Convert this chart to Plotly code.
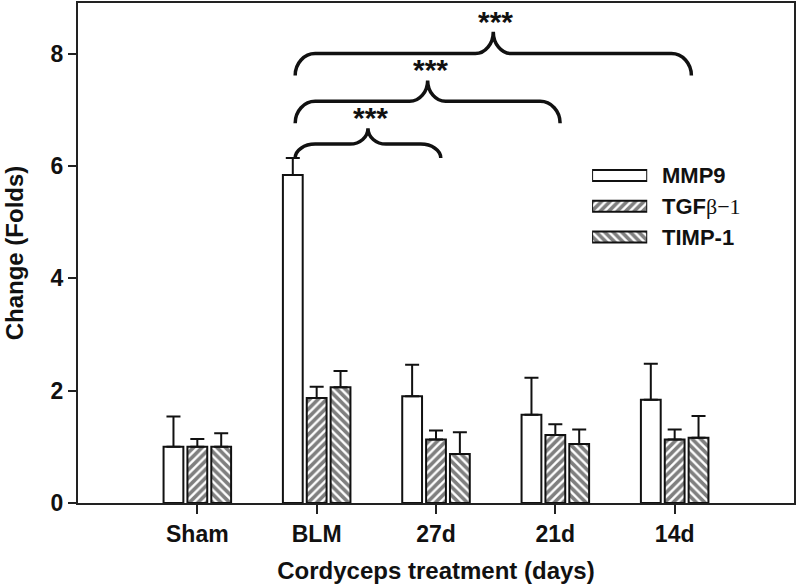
import plotly.graph_objects as go

GROUPS = ["Sham", "BLM", "27d", "21d", "14d"]
SERIES = ["MMP9", "TGFβ−1", "TIMP-1"]
MMP9 = [1.00, 5.84, 1.90, 1.57, 1.84]
MMP9_ERR = [0.54, 0.30, 0.56, 0.66, 0.64]
TGFB1 = [1.00, 1.87, 1.13, 1.21, 1.13]
TGFB1_ERR = [0.14, 0.20, 0.16, 0.19, 0.18]
TIMP1 = [1.00, 2.06, 0.87, 1.05, 1.16]
TIMP1_ERR = [0.24, 0.29, 0.39, 0.26, 0.39]
Y_TICKS = [0, 2, 4, 6, 8]

# BLM vs each treatment group, all p < 0.001
SIG_TARGETS = ["27d", "21d", "14d"]
SIG_LABELS = ["***", "***", "***"]

FONT = "Liberation Sans, Arial, sans-serif"
PATTERNS = ["", "/", "\\"]
X_RANGE = [-1, 5]
Y_RANGE = [0, 8.9]
PLOT_W, PLOT_H = 717, 502

x = list(range(len(GROUPS)))
fig = go.Figure()
for name, vals, errs, pat in zip(SERIES, [MMP9, TGFB1, TIMP1],
                                 [MMP9_ERR, TGFB1_ERR, TIMP1_ERR], PATTERNS):
    fig.add_bar(
        x=x, y=vals, name=name, showlegend=False,
        marker=dict(color="white", line=dict(color="#111", width=2),
                    pattern=dict(shape=pat, fgcolor="#000", bgcolor="white",
                                 size=6, solidity=0.6)),
        error_y=dict(type="data", array=errs, arrayminus=[0] * len(errs),
                     symmetric=False, color="#111", thickness=2, width=7),
    )

# legend swatches drawn as bars on a small overlay axis so they can be wide
fig.add_bar(
    x=[1] * len(SERIES), y=list(range(len(SERIES))), orientation="h",
    xaxis="x2", yaxis="y2", width=0.355, showlegend=False, hoverinfo="skip",
    marker=dict(color="white", line=dict(color="#111", width=2),
                pattern=dict(shape=PATTERNS, fgcolor="#000", bgcolor="white",
                             size=6, solidity=0.6)),
)

legend_text = ["<b>MMP9</b>",
               "<b>TGF</b><span style='font-family:Liberation Serif, Times New Roman, serif'>β−1</span>",
               "<b>TIMP-1</b>"]
legend_rows = [174, 205, 236]  # px from top of plot area
annotations = []
for txt, row in zip(legend_text, legend_rows):
    annotations.append(dict(xref="paper", yref="paper", x=(661 - 78) / PLOT_W,
                            y=(503 - row) / PLOT_H, text=txt,
                            showarrow=False, xanchor="left", yanchor="middle",
                            font=dict(family=FONT, size=22, color="#111")))

# curly braces from the BLM MMP9 bar to each treatment group
px_x = PLOT_W / (X_RANGE[1] - X_RANGE[0])
px_y = PLOT_H / (Y_RANGE[1] - Y_RANGE[0])
x_left = GROUPS.index("BLM") - 0.2 + 0.02
blm_top = MMP9[1] + MMP9_ERR[1]
bases = [blm_top, blm_top + 0.62, blm_top + 1.47]
rises = [14, 22, 22]
tips = [16, 21, 22]
right_pad = [0.04, 0.04, 0.14]
shapes = []
for k, tgt in enumerate(SIG_TARGETS):
    x0 = x_left
    x1 = GROUPS.index(tgt) + right_pad[k]
    xm = (x0 + x1) / 2
    yb = bases[k]
    yh = yb + rises[k] / px_y
    yt = yh + tips[k] / px_y
    de = 20 / px_x
    dt = 18 / px_x
    c = 0.552
    path = (f"M {x0},{yb} C {x0},{yb + c * (yh - yb)} {x0 + de * (1 - c)},{yh} {x0 + de},{yh} "
            f"L {xm - dt},{yh} C {xm - dt * (1 - c)},{yh} {xm},{yt - c * (yt - yh)} {xm},{yt} "
            f"C {xm},{yt - c * (yt - yh)} {xm + dt * (1 - c)},{yh} {xm + dt},{yh} "
            f"L {x1 - de},{yh} C {x1 - de * (1 - c)},{yh} {x1},{yb + c * (yh - yb)} {x1},{yb}")
    shapes.append(dict(type="path", path=path, xref="x", yref="y",
                       line=dict(color="#111", width=3.5)))
    annotations.append(dict(xref="x", yref="y", x=xm + 0.02, y=yt, text=SIG_LABELS[k],
                            showarrow=False, xanchor="center", yanchor="bottom",
                            yshift=-8,
                            font=dict(family=FONT, size=30, color="#111", weight="bold")))

axis_common = dict(showline=True, linecolor="#222", linewidth=2, mirror=True,
                   ticks="outside", tickcolor="#222", tickwidth=1.5,
                   showgrid=False, zeroline=False,
                   tickfont=dict(family=FONT, size=23, color="#111", weight="bold"))

fig.update_layout(
    width=797, height=587,
    margin=dict(l=78, r=2, t=1, b=84),
    paper_bgcolor="white", plot_bgcolor="white",
    barmode="group", bargap=0.4, bargroupgap=0.17,
    xaxis=dict(**axis_common, range=X_RANGE, tickvals=x, ticktext=GROUPS, ticklen=9,
               title=dict(text="Cordyceps treatment (days)", standoff=17,
                          font=dict(family=FONT, size=24, color="#111", weight="bold"))),
    yaxis=dict(**axis_common, range=Y_RANGE, tickvals=Y_TICKS, ticklen=8,
               title=dict(text="Change (Folds)", standoff=20,
                          font=dict(family=FONT, size=24, color="#111", weight="bold"))),
    xaxis2=dict(domain=[0.718, 0.795], range=[0, 1], anchor="y2", visible=False,
                fixedrange=True),
    yaxis2=dict(domain=[0.501, 0.686], range=[2.5, -0.5], anchor="x2", visible=False,
                fixedrange=True),
    shapes=shapes,
    annotations=annotations,
)

fig.write_html("out.html", config={"displayModeBar": False},
               post_script="document.body.style.margin='0';")
